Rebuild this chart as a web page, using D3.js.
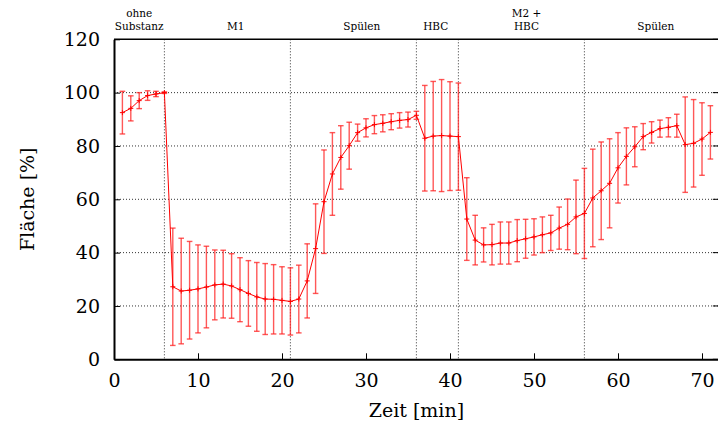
<!DOCTYPE html>
<html>
<head>
<meta charset="utf-8" />
<title>Fläche vs Zeit</title>
<style>
body { margin: 0; background: #fff; }
#graph { width: 718px; height: 430px; }
svg text { font-family: "DejaVu Serif", serif !important; }
.grid line { stroke: #333; stroke-dasharray: 1 2; stroke-width: 1; }
</style>
</head>
<body>
<div id="graph"></div>
<script src="https://d3js.org/d3.v7.min.js"></script>
<script>
// minutes 1..71
var times = d3.range(1, 72);
var values = [92.5, 94.1, 97.0, 98.9, 99.5, 100.0,
    27.2, 25.6, 25.9, 26.4, 27.1, 27.9, 28.2, 27.5, 26.1, 24.7, 23.4, 22.6, 22.5, 22.1, 21.7,
    22.6, 29.4, 41.5, 59.1, 69.5, 75.7, 80.1, 85.0, 86.8, 88.0, 88.5, 89.1, 89.6, 89.9, 91.5,
    82.9, 83.7, 83.9, 83.7, 83.5,
    52.6, 44.7, 42.9, 43.0, 43.6, 43.6, 44.5, 45.2, 45.9, 46.7, 47.4, 49.2, 50.6, 53.4, 54.7,
    60.5, 63.2, 66.0, 71.8, 76.1, 79.7, 83.5, 85.1, 86.5, 87.0, 87.6, 80.5, 81.0, 82.6, 85.1];
var errors = [8.0, 4.7, 3.0, 1.8, 1.0, 0.3,
    22.0, 19.8, 18.3, 16.5, 15.3, 13.1, 12.7, 12.1, 12.0, 12.3, 12.9, 13.3, 13.0, 12.6, 12.6,
    12.7, 13.9, 16.8, 19.4, 15.5, 11.9, 8.8, 3.2, 3.4, 3.4, 3.2, 3.0, 2.9, 2.8, 1.5,
    19.8, 20.5, 21.0, 20.4, 20.1,
    15.5, 9.3, 6.4, 7.6, 7.9, 7.9, 7.9, 7.3, 6.8, 6.7, 6.6, 7.9, 9.5, 13.8, 16.9,
    18.3, 18.3, 16.7, 13.2, 10.7, 7.5, 4.9, 4.0, 3.2, 3.6, 4.3, 17.9, 16.4, 13.6, 10.0];
var phaseBreaks = [6, 21, 36, 41, 56];
var phaseLabels = [
    {x: 3, lines: ["ohne", "Substanz"]},
    {x: 14.5, lines: ["M1"]},
    {x: 29.5, lines: ["Spülen"]},
    {x: 38.3, lines: ["HBC"]},
    {x: 49.1, lines: ["M2 +", "HBC"]},
    {x: 64.5, lines: ["Spülen"]}
];
var xTicks = [0, 10, 20, 30, 40, 50, 60, 70];
var yTicks = [0, 20, 40, 60, 80, 100, 120];

var data = times.map(function(t, i) { return {t: t, v: values[i], e: errors[i]}; });

var width = 718, height = 430;
var margin = {top: 39.3, left: 114, bottom: 70.7, right: -0.8};
var chartWidth = width - margin.left - margin.right;
var chartHeight = height - margin.top - margin.bottom;
var serif = "DejaVu Serif, serif";

var svg = d3.select("#graph").append("svg").attr("width", width).attr("height", height)
    .attr("font-family", serif);
var g = svg.append("g").attr("transform", "translate(" + [margin.left, margin.top] + ")");

var xScale = d3.scaleLinear().domain([0, 72]).range([0, chartWidth]);
var yScale = d3.scaleLinear().domain([0, 120]).range([chartHeight, 0]);

// horizontal grid
g.append("g").attr("class", "grid")
    .selectAll("line").data(yTicks.filter(function(d) { return d > 0 && d < 120; }))
    .enter().append("line")
    .attr("x1", 0).attr("x2", chartWidth)
    .attr("y1", function(d) { return yScale(d); })
    .attr("y2", function(d) { return yScale(d); });

// phase separators
g.append("g").attr("class", "grid")
    .selectAll("line").data(phaseBreaks)
    .enter().append("line")
    .attr("x1", function(d) { return xScale(d); })
    .attr("x2", function(d) { return xScale(d); })
    .attr("y1", 0).attr("y2", chartHeight);

// axes
var xAxis = d3.axisBottom(xScale).tickValues(xTicks).tickSizeInner(-6).tickSizeOuter(0).tickPadding(14);
var xg = g.append("g").attr("transform", "translate(0," + chartHeight + ")").call(xAxis)
    .attr("font-family", serif).attr("font-size", 19);
xg.select(".domain").attr("stroke-width", 2);

var yAxis = d3.axisLeft(yScale).tickValues(yTicks).tickSizeInner(-6).tickSizeOuter(0).tickPadding(14);
var yg = g.append("g").call(yAxis)
    .attr("font-family", serif).attr("font-size", 19);
yg.select(".domain").attr("stroke-width", 2);

// mirrored y ticks at right border
g.append("g").selectAll("line").data(yTicks).enter().append("line")
    .attr("x1", chartWidth - 6).attr("x2", chartWidth)
    .attr("y1", function(d) { return yScale(d); })
    .attr("y2", function(d) { return yScale(d); })
    .attr("stroke", "#000");

// top border
g.append("line").attr("x1", 0).attr("x2", chartWidth).attr("y1", 0).attr("y2", 0)
    .attr("stroke", "#000").attr("stroke-width", 1.5);

// phase labels, one text per line
phaseLabels.forEach(function(p) {
    p.lines.forEach(function(line, i) {
        g.append("text")
            .attr("text-anchor", "middle")
            .attr("font-size", 10.5)
            .attr("x", xScale(p.x))
            .attr("y", -9.5 - (p.lines.length - 1 - i) * 12.4)
            .text(line);
    });
});

// error bars
var eb = g.append("g").attr("stroke", "#ff2020").attr("stroke-opacity", 0.75).attr("stroke-width", 1.4);
var cap = 2.8;
eb.selectAll(".bar").data(data).enter().append("line")
    .attr("x1", function(d) { return xScale(d.t); })
    .attr("x2", function(d) { return xScale(d.t); })
    .attr("y1", function(d) { return yScale(d.v + d.e); })
    .attr("y2", function(d) { return yScale(d.v - d.e); });
eb.selectAll(".capTop").data(data).enter().append("line")
    .attr("x1", function(d) { return xScale(d.t) - cap; })
    .attr("x2", function(d) { return xScale(d.t) + cap; })
    .attr("y1", function(d) { return yScale(d.v + d.e); })
    .attr("y2", function(d) { return yScale(d.v + d.e); });
eb.selectAll(".capBot").data(data).enter().append("line")
    .attr("x1", function(d) { return xScale(d.t) - cap; })
    .attr("x2", function(d) { return xScale(d.t) + cap; })
    .attr("y1", function(d) { return yScale(d.v - d.e); })
    .attr("y2", function(d) { return yScale(d.v - d.e); });

// line
var lineGen = d3.line()
    .x(function(d) { return xScale(d.t); })
    .y(function(d) { return yScale(d.v); });
g.append("path").datum(data)
    .attr("d", lineGen)
    .attr("fill", "none")
    .attr("stroke", "#ff0000")
    .attr("stroke-width", 1);

// + markers
var pm = 2.5;
var mk = g.append("g").attr("stroke", "#ff0000").attr("stroke-width", 1);
mk.selectAll(".h").data(data).enter().append("line")
    .attr("x1", function(d) { return xScale(d.t) - pm; })
    .attr("x2", function(d) { return xScale(d.t) + pm; })
    .attr("y1", function(d) { return yScale(d.v); })
    .attr("y2", function(d) { return yScale(d.v); });
mk.selectAll(".v").data(data).enter().append("line")
    .attr("x1", function(d) { return xScale(d.t); })
    .attr("x2", function(d) { return xScale(d.t); })
    .attr("y1", function(d) { return yScale(d.v) - pm; })
    .attr("y2", function(d) { return yScale(d.v) + pm; });

// axis titles
svg.append("text").attr("text-anchor", "middle")
    .attr("x", margin.left + xScale(36)).attr("y", 417)
    .attr("font-size", 19)
    .text("Zeit [min]");
svg.append("text").attr("text-anchor", "middle")
    .attr("transform", "translate(34," + (margin.top + yScale(60)) + ") rotate(-90)")
    .attr("font-size", 19)
    .text("Fläche [%]");
</script>
</body>
</html>
